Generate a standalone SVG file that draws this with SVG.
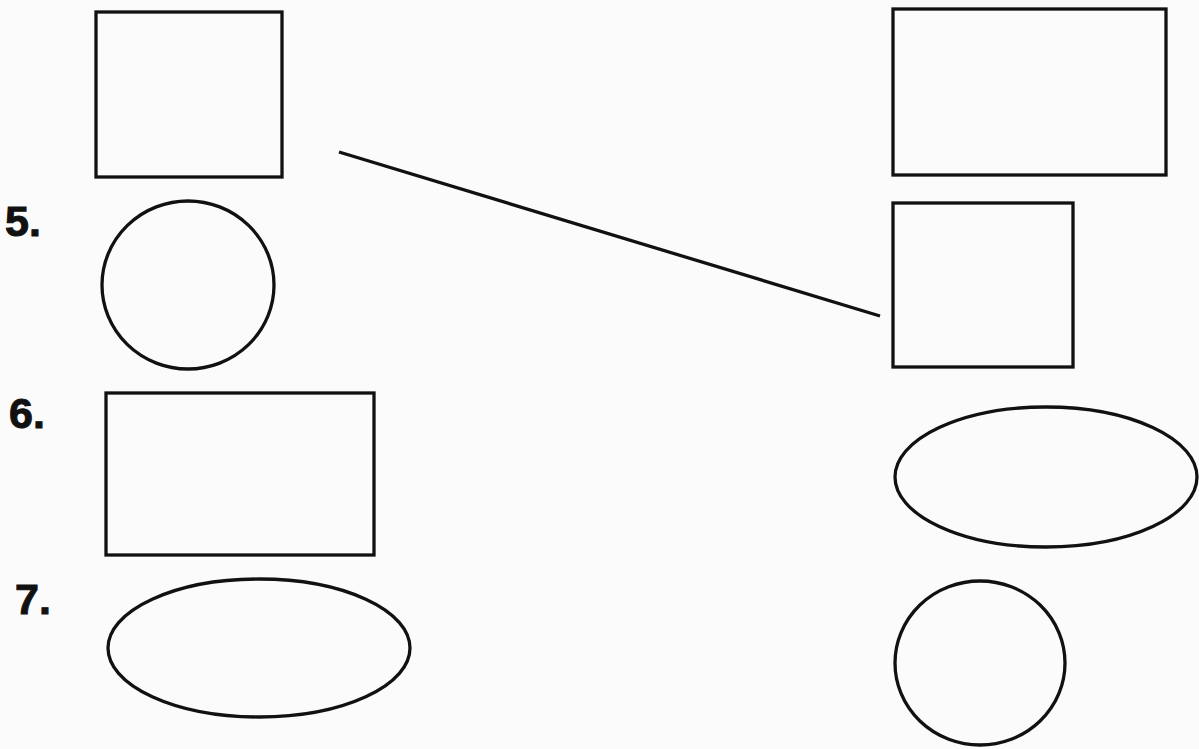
<svg xmlns="http://www.w3.org/2000/svg" width="1199" height="749" viewBox="0 0 1199 749">
<style>
.s{fill:none;stroke:#111;stroke-width:3.3}
.n{font-family:"Liberation Sans",Arial,sans-serif;font-weight:bold;font-size:43px;fill:#111;stroke:#111;stroke-width:1}
</style>
<rect width="1199" height="749" fill="#fbfbfb"/>
<text class="n" x="5" y="236">5.</text>
<text class="n" x="9" y="428">6.</text>
<text class="n" x="15" y="614">7.</text>
<g id="sqTL"><rect class="s" x="96" y="12" width="186" height="165"/></g>
<g id="rectTR"><rect class="s" x="893" y="9" width="273" height="166"/></g>
<g id="circle5"><ellipse class="s" cx="188" cy="285" rx="86" ry="84"/></g>
<g id="sqR"><rect class="s" x="893" y="203" width="180" height="164"/></g>
<g id="rect6"><rect class="s" x="106" y="393" width="268" height="162"/></g>
<g id="ellR"><ellipse class="s" cx="1046" cy="477" rx="151" ry="70"/></g>
<g id="ell7"><ellipse class="s" cx="259" cy="648" rx="151" ry="69"/></g>
<g id="circR"><ellipse class="s" cx="980" cy="663" rx="85" ry="82"/></g>
<g id="connectors"><line class="s" x1="339" y1="152" x2="880" y2="316"/></g>
</svg>
